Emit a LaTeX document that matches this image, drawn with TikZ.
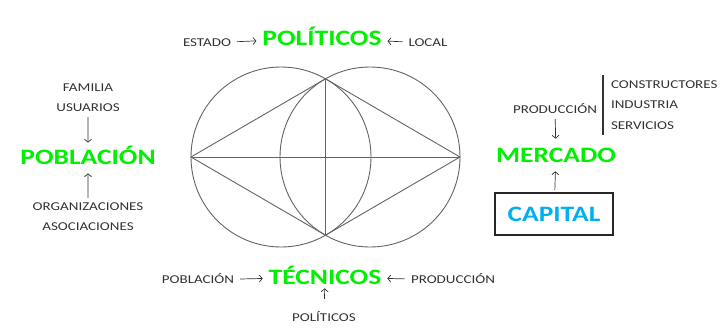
\documentclass[tikz,border=0pt]{standalone}
\usepackage{fontspec}
\setmainfont{Carlito}
\usetikzlibrary{positioning, arrows.meta}

\definecolor{grn}{RGB}{0,240,0}
\definecolor{blu}{RGB}{0,176,240}
\definecolor{txt}{RGB}{50,50,50}
\definecolor{lin}{RGB}{100,100,100}

\tikzset{
  small/.style = {text = txt, font = \fontsize{12}{14}\selectfont, xscale = 1.25, transform shape, text height = 7.7pt, text depth = 0pt, inner sep = 3pt},
  big/.style = {text = grn, font = \fontsize{22}{26}\selectfont\bfseries, xscale = 1.25, transform shape, text height = 14.2pt, text depth = 0pt, inner sep = 3pt},
  arr/.style = {-{Straight Barb[length = 3pt, width = 7pt]}, txt, line width = 0.7pt, shorten < = 2pt, shorten > = 2pt},
  geo/.style = {lin, line width = 0.9pt}
}

\begin{document}
\begin{tikzpicture}[x = 1pt, y = -1pt]
\useasboundingbox (0, 0) rectangle (723, 333);

% the two circles and the diamond
\coordinate (L) at (191, 157);
\coordinate (R) at (460, 157);
\coordinate (T) at (325.5, 78.8);
\coordinate (B) at (325.5, 235.2);
\draw[geo] (281, 157) circle[radius = 90];
\draw[geo] (370, 157) circle[radius = 90];
\draw[geo] (L) -- (R);
\draw[geo] (T) -- (B);
\draw[geo] (L) -- (T) -- (R) -- (B) -- cycle;

% top
\node[big] (pol) at (322, 38) {POLÍTICOS};
\node[small] (estado) at (207, 43) {ESTADO};
\node[small] (local) at (428, 43) {LOCAL};
\draw[arr] (estado) -- (pol);
\draw[arr] (local) -- (pol);

% bottom
\node[big] (tec) at (325, 277) {TÉCNICOS};
\node[small] (pobb) at (198, 280) {POBLACIÓN};
\node[small] (prodb) at (453, 280) {PRODUCCIÓN};
\node[small] (polb) at (324, 318) {POLÍTICOS};
\draw[arr] (pobb) -- (tec);
\draw[arr] (prodb) -- (tec);
\draw[arr, shorten < = 12pt, shorten > = 1pt] (polb) -- (tec);

% left
\node[big] (pobl) at (88, 157) {POBLACIÓN};
\node[small] (fam) at (88, 88) {FAMILIA};
\node[small] (usu) at (88, 108) {USUARIOS};
\node[small] (org) at (88, 207) {ORGANIZACIONES};
\node[small] (aso) at (88, 227) {ASOCIACIONES};
\draw[arr, shorten > = 4pt] (usu) -- (pobl);
\draw[arr, shorten > = 6pt] (org) -- (pobl);

% right
\node[big] (merc) at (556, 155) {MERCADO};
\node[small] (prod) at (555, 110) {PRODUCCIÓN};
\node[small, anchor = west] (cons) at (607, 85) {CONSTRUCTORES};
\node[small, anchor = west] (ind) at (607, 105) {INDUSTRIA};
\node[small, anchor = west] (serv) at (607, 126) {SERVICIOS};
\coordinate (bartop) at (603, 75);
\coordinate (barbot) at (603, 135);
\draw[black!80, line width = 1.5pt] (bartop) -- (barbot);
\node[big, text = blu, draw = black!85, line width = 1.8pt, minimum width = 94.4pt, minimum height = 42pt] (cap) at (554, 214) {CAPITAL};
\draw[arr, shorten > = 6pt] (prod) -- (merc);
\draw[arr, shorten > = 6pt] (cap) -- (merc);
\end{tikzpicture}
\end{document}
